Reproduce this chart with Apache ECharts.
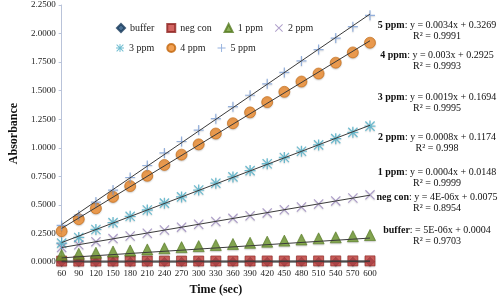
<!DOCTYPE html>
<html>
<head>
<meta charset="utf-8">
<script src="https://cdn.jsdelivr.net/npm/echarts@6/dist/echarts.min.js"></script>
<style>
  html, body { margin: 0; padding: 0; background: #fff; }
  #chart { width: 500px; height: 302px; }
</style>
</head>
<body>
<div id="chart"></div>
<script>
// time points (sec)
var times = [60, 90, 120, 150, 180, 210, 240, 270, 300, 330, 360, 390, 420, 450, 480, 510, 540, 570, 600];

// absorbance
var buffer = [0.0007, 0.0008, 0.0010, 0.0011, 0.0012, 0.0013, 0.0015, 0.0016, 0.0018, 0.0019, 0.0020, 0.0022, 0.0023, 0.0025, 0.0026, 0.0027, 0.0029, 0.0030, 0.0032];
var negCon = [0.0080, 0.0079, 0.0082, 0.0083, 0.0081, 0.0084, 0.0085, 0.0086, 0.0087, 0.0088, 0.0089, 0.0090, 0.0092, 0.0093, 0.0094, 0.0095, 0.0097, 0.0098, 0.0099];
var ppm1 = [0.036, 0.046, 0.055, 0.066, 0.075, 0.084, 0.094, 0.104, 0.113, 0.123, 0.132, 0.142, 0.152, 0.161, 0.171, 0.181, 0.190, 0.200, 0.210];
var ppm2 = [0.128, 0.150, 0.178, 0.205, 0.228, 0.252, 0.280, 0.305, 0.330, 0.355, 0.382, 0.405, 0.430, 0.458, 0.482, 0.508, 0.535, 0.560, 0.588];
var ppm3 = [0.165, 0.215, 0.285, 0.345, 0.400, 0.455, 0.515, 0.570, 0.630, 0.690, 0.745, 0.800, 0.860, 0.915, 0.970, 1.025, 1.080, 1.135, 1.190];
var ppm4 = [0.270, 0.375, 0.470, 0.570, 0.665, 0.755, 0.850, 0.940, 1.030, 1.125, 1.215, 1.310, 1.400, 1.490, 1.580, 1.650, 1.745, 1.835, 1.920];
var ppm5 = [0.320, 0.410, 0.525, 0.630, 0.740, 0.845, 0.955, 1.055, 1.155, 1.255, 1.360, 1.460, 1.560, 1.660, 1.760, 1.860, 1.960, 2.060, 2.160];

// trendline equations as printed on the chart
var eqNames = ["5 ppm", "4 ppm", "3 ppm", "2 ppm", "1 ppm", "neg con", "buffer"];
var eqTexts = [": y = 0.0034x + 0.3269", ": y = 0.003x + 0.2925", ": y = 0.0019x + 0.1694", ": y = 0.0008x + 0.1174",
               ": y = 0.0004x + 0.0148", ": y = 4E-06x + 0.0075", ": = 5E-06x + 0.0004"];
var r2Texts = ["R² = 0.9991", "R² = 0.9993", "R² = 0.9995", "R² = 0.998", "R² = 0.9999", "R² = 0.8954", "R² = 0.9703"];

var FONT = "Liberation Serif";

// marker shapes
var plusPath = "path://M4.4,0h1.2v10h-1.2z M0,4.4h10v1.2h-10z";
var xPath = "path://M0.8,0L10,9.2L9.2,10L0,0.8z M9.2,0L10,0.8L0.8,10L0,9.2z";
var starPath = "path://M4.4,0h1.2v10h-1.2z M0,4.4h10v1.2h-10z M1.2,0.4L9.6,8.8L8.8,9.6L0.4,1.2z M8.8,0.4L9.6,1.2L1.2,9.6L0.4,8.8z";

var seriesDefs = [
  { name: "buffer", data: buffer, symbol: "diamond", size: 9, color: "#1f4e79", border: "#16385a" },
  { name: "neg con", data: negCon, symbol: "rect", size: 10, color: "#c8403c", border: "#8e2320" },
  { name: "1 ppm", data: ppm1, symbol: "triangle", size: 11, color: "#6f9a2f", border: "#557a20", offset: [0, -3] },
  { name: "2 ppm", data: ppm2, symbol: xPath, size: 10, color: "#9884bb" },
  { name: "3 ppm", data: ppm3, symbol: starPath, size: 11, color: "#4bacc6" },
  { name: "4 ppm", data: ppm4, symbol: "circle", size: 11, color: "#ee8a2a", border: "#c2660e" },
  { name: "5 ppm", data: ppm5, symbol: plusPath, size: 10, color: "#7c9fd6" }
];

// least squares fit so each trendline follows its points
function fit(ys) {
  var n = times.length, sx = 0, sy = 0, sxx = 0, sxy = 0;
  for (var i = 0; i < n; i++) {
    sx += times[i]; sy += ys[i]; sxx += times[i] * times[i]; sxy += times[i] * ys[i];
  }
  var m = (n * sxy - sx * sy) / (n * sxx - sx * sx);
  var b = (sy - m * sx) / n;
  var x0 = times[0], x1 = times[n - 1];
  return [[x0, m * x0 + b], [x1, m * x1 + b]];
}

var series = [];
seriesDefs.forEach(function (d) {
  series.push({
    name: d.name + " trend",
    type: "line",
    data: fit(d.data),
    symbol: "none",
    silent: true,
    z: 3,
    lineStyle: { color: "#3a3a3a", width: 1 }
  });
});
seriesDefs.forEach(function (d) {
  series.push({
    name: d.name,
    type: "scatter",
    data: d.data.map(function (v, i) { return [times[i], v]; }),
    symbol: d.symbol,
    symbolSize: d.size,
    symbolOffset: d.offset || [0, 0],
    z: 2,
    itemStyle: {
      color: d.color,
      borderColor: d.border || d.color,
      borderWidth: d.border ? 0.8 : 0,
      shadowBlur: 1.5,
      shadowColor: "rgba(0,0,0,0.2)",
      shadowOffsetY: 1
    }
  });
});

var graphics = [];
var eqY = [25, 55, 97, 137, 172, 197, 230];
eqNames.forEach(function (name, i) {
  graphics.push({
    type: "text",
    x: 437, y: eqY[i],
    style: {
      text: "{b|" + name + "}" + eqTexts[i],
      textAlign: "center",
      textVerticalAlign: "middle",
      font: "10px " + FONT,
      fill: "#111",
      rich: { b: { fontWeight: "bold", fontFamily: FONT, fontSize: 10, fill: "#111" } }
    }
  });
  graphics.push({
    type: "text",
    x: 437, y: eqY[i] + 11,
    style: {
      text: r2Texts[i],
      textAlign: "center",
      textVerticalAlign: "middle",
      font: "10px " + FONT,
      fill: "#111"
    }
  });
});

var legendText = { fontFamily: FONT, fontSize: 10, color: "#222" };

var chart = echarts.init(document.getElementById("chart"));
chart.setOption({
  animation: false,
  backgroundColor: "#fff",
  grid: { left: 57, right: 130, top: 5, bottom: 40 },
  legend: [
    {
      data: ["buffer", "neg con", "1 ppm", "2 ppm"],
      left: 111, top: 18,
      itemWidth: 8, itemHeight: 8, itemGap: 12,
      textStyle: legendText
    },
    {
      data: ["3 ppm", "4 ppm", "5 ppm"],
      left: 111, top: 38,
      itemWidth: 8, itemHeight: 8, itemGap: 12,
      textStyle: legendText
    }
  ],
  xAxis: {
    type: "value",
    min: 60, max: 600, interval: 30,
    name: "Time (sec)",
    nameLocation: "middle",
    nameGap: 22,
    nameTextStyle: { fontFamily: FONT, fontSize: 12, fontWeight: "bold", color: "#111" },
    axisLine: { lineStyle: { color: "#999" } },
    axisTick: { show: false },
    splitLine: { show: false },
    axisLabel: { fontFamily: FONT, fontSize: 9, color: "#222", margin: 7, hideOverlap: false }
  },
  yAxis: {
    type: "value",
    min: 0, max: 2.25, interval: 0.25,
    name: "Absorbance",
    nameLocation: "middle",
    nameGap: 36,
    nameTextStyle: { fontFamily: FONT, fontSize: 12, fontWeight: "bold", color: "#111" },
    axisLine: { show: true, lineStyle: { color: "#b9c3d9" } },
    axisTick: { show: true, length: 3, lineStyle: { color: "#b9c3d9" } },
    splitLine: { show: false },
    axisLabel: {
      fontFamily: FONT, fontSize: 9, color: "#222", margin: 6,
      formatter: function (v) { return v.toFixed(4); }
    }
  },
  graphic: graphics,
  series: series
});
</script>
</body>
</html>
